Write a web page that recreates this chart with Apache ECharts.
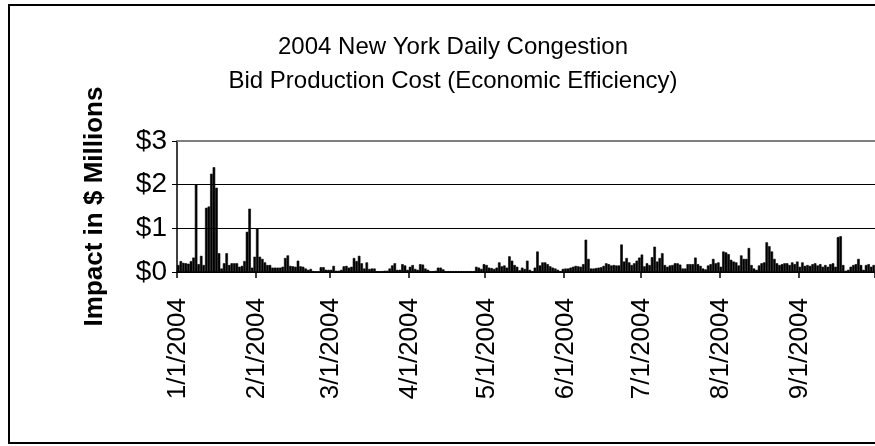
<!DOCTYPE html>
<html>
<head>
<meta charset="utf-8">
<script src="https://cdn.jsdelivr.net/npm/echarts@6/dist/echarts.min.js"></script>
<style>
html,body{margin:0;padding:0;background:#fff;}
#chart{width:875px;height:446px;}
</style>
</head>
<body>
<div id="chart"></div>
<script>
// Daily values ($ millions), 2004
var jan = [0.16,0.25,0.21,0.20,0.19,0.25,0.33,2.00,0.18,0.37,0.16,1.47,1.50,2.25,2.40,1.93,0.43,0.08,0.20,0.43,0.16,0.20,0.20,0.20,0.12,0.14,0.25,0.92,1.45,0.10,0.35];
var feb = [1.00,0.35,0.30,0.22,0.16,0.16,0.10,0.10,0.10,0.10,0.12,0.32,0.38,0.14,0.13,0.12,0.26,0.13,0.12,0.08,0.05,0.07,0.02,0.01,0.01,0.11,0.11,0.05,0.05];
var mar = [0.05,0.14,0.03,0.03,0.05,0.13,0.14,0.10,0.12,0.32,0.25,0.37,0.20,0.08,0.22,0.07,0.08,0.08,0.02,0.02,0.02,0.03,0.03,0.08,0.15,0.20,0.05,0.05,0.18,0.15,0.05];
var apr = [0.12,0.16,0.07,0.05,0.18,0.17,0.08,0.05,0.02,0.02,0.03,0.10,0.10,0.06,0.02,0.02,0.02,0.02,0.02,0.02,0.02,0.02,0.02,0.02,0.02,0.02,0.12,0.10,0.07,0.18];
var may = [0.16,0.10,0.09,0.07,0.10,0.22,0.13,0.15,0.10,0.36,0.26,0.16,0.12,0.04,0.10,0.07,0.26,0.05,0.02,0.10,0.47,0.15,0.22,0.22,0.18,0.13,0.10,0.08,0.05,0.02,0.07];
var jun = [0.08,0.08,0.10,0.12,0.14,0.13,0.12,0.18,0.74,0.30,0.08,0.08,0.09,0.10,0.11,0.14,0.20,0.18,0.15,0.16,0.15,0.15,0.63,0.24,0.32,0.22,0.16,0.20,0.26,0.33];
var jul = [0.40,0.13,0.20,0.16,0.34,0.58,0.24,0.32,0.43,0.16,0.12,0.15,0.16,0.20,0.20,0.17,0.08,0.08,0.18,0.18,0.18,0.33,0.18,0.14,0.08,0.06,0.15,0.18,0.30,0.20,0.22];
var aug = [0.12,0.47,0.45,0.41,0.28,0.24,0.22,0.15,0.38,0.30,0.30,0.55,0.16,0.08,0.05,0.15,0.20,0.22,0.68,0.59,0.47,0.30,0.20,0.16,0.18,0.20,0.20,0.16,0.22,0.18,0.24];
var sep = [0.12,0.22,0.14,0.16,0.14,0.18,0.20,0.15,0.18,0.12,0.16,0.12,0.18,0.20,0.12,0.80,0.82,0.16,0.03,0.05,0.12,0.16,0.18,0.30,0.16,0.05,0.16,0.18,0.12,0.16];

var months = [jan, feb, mar, apr, may, jun, jul, aug, sep];
var yTicks = [0, 1, 2, 3];
var titleLines = ['2004 New York Daily Congestion', 'Bid Production Cost (Economic Efficiency)'];
var yName = 'Impact in $ Millions';

var categories = [];
var values = [];
months.forEach(function (arr, m) {
  arr.forEach(function (v, d) {
    categories.push((m + 1) + '/' + (d + 1) + '/2004');
    values.push(v);
  });
});
function isMonthStart(idx) {
  return categories[idx].split('/')[1] === '1';
}

var FONT = '"Liberation Sans", Arial, Helvetica, sans-serif';
var chart = echarts.init(document.getElementById('chart'), null, {renderer: 'canvas'});
chart.setOption({
  animation: false,
  backgroundColor: '#ffffff',
  title: {
    text: titleLines.join('\n'),
    left: 448,
    textAlign: 'center',
    top: 25,
    textStyle: {fontFamily: FONT, fontWeight: 'normal', fontSize: 24, lineHeight: 34, color: '#000'}
  },
  graphic: [{
    type: 'rect',
    shape: {x: 9, y: 5, width: 900, height: 438},
    style: {fill: 'none', stroke: '#000', lineWidth: 2},
    silent: true
  }],
  grid: {left: 177, top: 141, width: 700, height: 131, containLabel: false},
  xAxis: {
    type: 'category',
    data: categories,
    boundaryGap: true,
    axisLine: {show: true, lineStyle: {color: '#000', width: 1.5}},
    axisTick: {show: true, length: 6, interval: function (i) { return isMonthStart(i); }, lineStyle: {color: '#000', width: 1.5}},
    axisLabel: {
      interval: function (i) { return isMonthStart(i); },
      formatter: function (v) { return v; },
      rotate: 90,
      margin: 26,
      fontFamily: FONT,
      fontSize: 26,
      color: '#000'
    },
    splitLine: {show: false}
  },
  yAxis: {
    type: 'value',
    min: yTicks[0],
    max: yTicks[yTicks.length - 1],
    interval: 1,
    name: yName,
    nameLocation: 'middle',
    nameRotate: 90,
    nameGap: 69,
    nameTextStyle: {fontFamily: FONT, fontWeight: 'bold', fontSize: 26, color: '#000'},
    axisLine: {show: true, lineStyle: {color: '#000', width: 1.5}},
    axisTick: {show: true, length: 5, lineStyle: {color: '#000'}},
    axisLabel: {
      formatter: function (v) { return '$' + v; },
      margin: 10,
      fontFamily: FONT,
      fontSize: 28,
      color: '#000'
    },
    splitLine: {show: true, showMaxLine: false, lineStyle: {color: '#000', width: 1}}
  },
  series: [{
    type: 'bar',
    data: values,
    barCategoryGap: '0%',
    itemStyle: {color: '#000', borderColor: '#000', borderWidth: 0.6},
    markLine: {
      silent: true,
      symbol: 'none',
      label: {show: false},
      lineStyle: {color: '#808080', width: 2, type: 'solid'},
      data: [{yAxis: yTicks[yTicks.length - 1]}]
    }
  }]
});
</script>
</body>
</html>
